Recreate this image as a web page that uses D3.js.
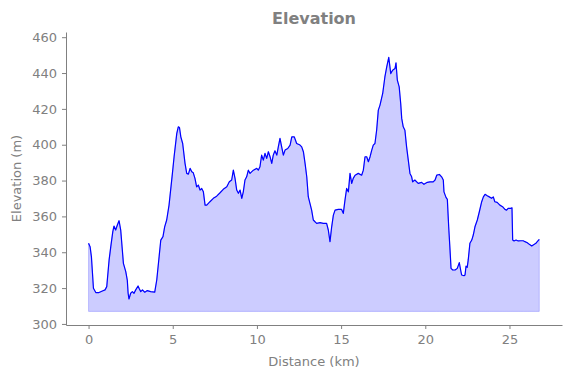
<!DOCTYPE html>
<html>
<head>
<meta charset="utf-8">
<script src="https://cdn.jsdelivr.net/npm/d3@7"></script>
<style>
  body { margin: 0; background: #fff; }
  svg { display: block; font-family: "DejaVu Sans", sans-serif; }
</style>
</head>
<body>
<div id="chart"></div>
<script>
const distKm = [0, 0.09, 0.17, 0.29, 0.43, 0.62, 0.82, 0.98, 1.08, 1.22, 1.32, 1.44, 1.51, 1.61, 1.71, 1.81, 1.91, 2.07, 2.21, 2.30, 2.35, 2.40, 2.50, 2.60, 2.70, 2.80, 2.94, 3.0, 3.10, 3.20, 3.34, 3.49, 3.69, 3.93, 4.05, 4.19, 4.29, 4.42, 4.52, 4.64, 4.78, 4.98, 5.08, 5.24, 5.33, 5.40, 5.48, 5.59, 5.73, 5.83, 5.93, 6.03, 6.13, 6.22, 6.32, 6.42, 6.52, 6.62, 6.72, 6.82, 6.92, 7.02, 7.21, 7.41, 7.61, 7.81, 8.00, 8.21, 8.36, 8.50, 8.60, 8.70, 8.80, 8.90, 9.00, 9.10, 9.19, 9.29, 9.39, 9.49, 9.59, 9.79, 9.99, 10.08, 10.18, 10.28, 10.38, 10.48, 10.58, 10.68, 10.78, 10.88, 10.97, 11.07, 11.18, 11.27, 11.37, 11.47, 11.57, 11.67, 11.83, 11.97, 12.07, 12.22, 12.36, 12.56, 12.66, 12.76, 12.86, 12.96, 13.05, 13.15, 13.25, 13.35, 13.45, 13.55, 13.75, 13.94, 14.14, 14.24, 14.34, 14.44, 14.54, 14.64, 14.83, 15.03, 15.13, 15.23, 15.33, 15.43, 15.53, 15.63, 15.72, 15.83, 16.02, 16.22, 16.32, 16.42, 16.52, 16.62, 16.72, 16.82, 16.91, 17.01, 17.11, 17.21, 17.31, 17.47, 17.60, 17.71, 17.83, 17.95, 18.06, 18.20, 18.26, 18.34, 18.45, 18.54, 18.60, 18.69, 18.79, 18.89, 18.99, 19.09, 19.19, 19.25, 19.38, 19.58, 19.78, 19.92, 20.12, 20.28, 20.47, 20.58, 20.68, 20.84, 20.97, 21.07, 21.11, 21.23, 21.31, 21.39, 21.47, 21.53, 21.63, 21.77, 21.90, 22.02, 22.10, 22.16, 22.30, 22.36, 22.42, 22.49, 22.55, 22.65, 22.76, 22.85, 22.95, 23.09, 23.21, 23.35, 23.45, 23.55, 23.68, 23.80, 23.94, 24.04, 24.13, 24.27, 24.43, 24.59, 24.73, 24.83, 24.92, 25.07, 25.15, 25.19, 25.27, 25.39, 25.52, 25.67, 25.82, 25.92, 26.06, 26.18, 26.32, 26.41, 26.57, 26.65, 26.77];

const elevM = [345.0, 343.1, 337.5, 319.9, 317.5, 317.5, 318.4, 319.0, 320.8, 335.7, 343.1, 351.5, 354.6, 352.4, 355.2, 357.6, 352.4, 333.8, 329.2, 324.5, 317.1, 313.9, 317.1, 318.0, 317.1, 319.0, 321.2, 319.9, 318.0, 319.0, 317.7, 318.6, 318.0, 317.7, 324.5, 337.5, 346.8, 348.7, 354.2, 358.0, 366.3, 384.0, 393.3, 406.3, 410.0, 409.6, 404.4, 400.7, 389.6, 384.0, 383.6, 386.8, 384.9, 384.3, 381.2, 376.5, 377.5, 374.7, 375.6, 373.7, 366.3, 366.3, 368.2, 370.1, 371.3, 373.2, 375.1, 376.5, 379.3, 380.3, 385.8, 381.2, 374.7, 372.9, 374.7, 370.1, 373.7, 380.3, 382.1, 385.8, 384.0, 385.8, 386.8, 385.8, 387.7, 394.2, 391.4, 395.2, 392.4, 396.1, 393.3, 389.6, 394.2, 396.6, 394.2, 398.8, 403.5, 398.8, 394.2, 397.0, 397.9, 399.8, 404.4, 404.4, 400.7, 399.8, 398.8, 396.1, 389.6, 382.1, 371.0, 367.3, 363.5, 358.0, 357.0, 356.1, 356.5, 356.1, 356.1, 352.4, 345.9, 354.2, 360.7, 363.5, 363.9, 363.9, 361.7, 369.1, 375.6, 373.7, 384.0, 378.4, 381.2, 383.0, 384.0, 383.0, 385.8, 393.3, 393.3, 390.5, 393.3, 397.0, 399.8, 400.7, 408.1, 419.3, 422.1, 428.6, 437.8, 443.4, 448.7, 439.7, 441.6, 442.5, 445.7, 436.0, 432.3, 423.0, 414.7, 410.0, 408.1, 398.8, 391.4, 384.0, 382.1, 379.3, 380.3, 378.4, 379.0, 377.9, 379.0, 379.3, 379.3, 380.3, 383.0, 383.4, 382.1, 380.3, 373.7, 370.6, 369.5, 354.2, 341.2, 331.0, 330.1, 330.1, 331.0, 334.2, 330.1, 327.3, 326.9, 327.3, 332.3, 331.6, 335.7, 345.0, 346.8, 349.6, 354.2, 358.0, 362.6, 368.2, 370.9, 372.3, 371.5, 370.9, 370.1, 370.9, 368.2, 367.8, 366.3, 365.4, 363.9, 363.5, 364.5, 364.5, 364.8, 346.8, 346.3, 346.8, 346.3, 346.4, 346.4, 345.9, 345.3, 344.4, 343.5, 344.1, 345.0, 345.9, 347.2];

const xTicks = [0, 5, 10, 15, 20, 25];
const yTicks = [300, 320, 340, 360, 380, 400, 420, 440, 460];
const fillBase = 307;

const data = distKm.map((d, i) => ({ km: d, elev: elevM[i] }));

const W = 571, H = 378;
const PLOT = { LEFT: 66, RIGHT: 562, TOP: 32, BOTTOM: 325 };
const GREY = "#808080";

const svg = d3.select("#chart").append("svg")
  .attr("width", W)
  .attr("height", H);

const x = d3.scaleLinear().domain([-1.34, 28.12]).range([PLOT.LEFT, PLOT.RIGHT]);
const y = d3.scaleLinear().domain([299.4, 462.9]).range([PLOT.BOTTOM, PLOT.TOP]);

// area under the profile
const area = d3.area()
  .x(d => x(d.km))
  .y0(y(fillBase))
  .y1(d => y(d.elev));

svg.append("path")
  .datum(data)
  .attr("d", area)
  .attr("fill", "rgba(0,0,255,0.2)")
  .attr("stroke", "rgba(0,0,255,0.2)")
  .attr("stroke-width", 1);

const line = d3.line()
  .x(d => x(d.km))
  .y(d => y(d.elev));

svg.append("path")
  .datum(data)
  .attr("d", line)
  .attr("fill", "none")
  .attr("stroke", "#0000ff")
  .attr("stroke-width", 1.2)
  .attr("stroke-linejoin", "round");

// axes
const xAxis = svg.append("g")
  .attr("transform", `translate(0, ${PLOT.BOTTOM})`)
  .call(d3.axisBottom(x).tickValues(xTicks).tickSize(4).tickPadding(6).tickSizeOuter(0));

const yAxis = svg.append("g")
  .attr("transform", `translate(${PLOT.LEFT}, 0)`)
  .call(d3.axisLeft(y).tickValues(yTicks).tickSize(4).tickPadding(5).tickSizeOuter(0));

[xAxis, yAxis].forEach(g => {
  g.select(".domain").attr("stroke", GREY).attr("stroke-width", 1);
  g.selectAll(".tick line").attr("stroke", GREY);
  g.selectAll(".tick text")
    .attr("fill", GREY)
    .attr("font-size", "13px")
    .attr("font-family", "DejaVu Sans, sans-serif");
});

svg.append("text")
  .attr("x", (PLOT.LEFT + PLOT.RIGHT) / 2)
  .attr("y", 366)
  .attr("text-anchor", "middle")
  .attr("font-size", "13px")
  .attr("fill", GREY)
  .text("Distance (km)");

svg.append("text")
  .attr("transform", `translate(21, ${(PLOT.TOP + PLOT.BOTTOM) / 2}) rotate(-90)`)
  .attr("text-anchor", "middle")
  .attr("font-size", "13px")
  .attr("fill", GREY)
  .text("Elevation (m)");

svg.append("text")
  .attr("x", (PLOT.LEFT + PLOT.RIGHT) / 2)
  .attr("y", 24)
  .attr("text-anchor", "middle")
  .attr("font-size", "16px")
  .attr("font-weight", "bold")
  .attr("fill", GREY)
  .text("Elevation");
</script>
</body>
</html>
